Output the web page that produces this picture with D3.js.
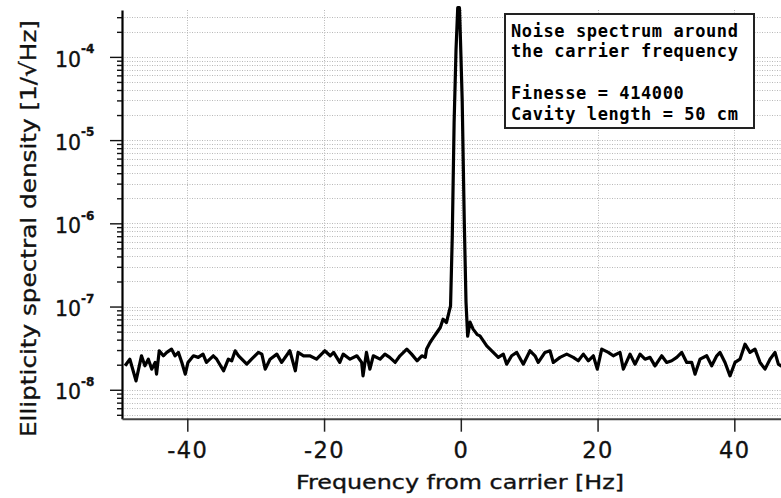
<!DOCTYPE html>
<html><head><meta charset="utf-8">
<script src="https://cdn.jsdelivr.net/npm/d3@7"></script>
<style>body{margin:0;background:#fff;} svg{display:block;}</style>
</head><body>
<svg id="chart" width="781" height="498"></svg>
<script>
// ---- data ----
const frequencies = [
 -49.1,-48.4,-47.5,-46.7,-46.2,-45.7,-45.2,-44.7,-44.5,-44.1,-43.5,-43.0,-42.3,-41.8,-41.3,-40.8,-40.3,-39.9,
 -39.1,-38.4,-37.7,-37.2,-36.2,-35.7,-34.7,-34.0,-33.5,-33.0,-32.5,-31.3,-30.6,-29.6,-29.1,-28.6,-27.9,-26.9,
 -26.2,-25.0,-24.2,-23.8,-23.0,-22.1,-21.1,-19.9,-19.1,-18.6,-17.7,-17.2,-16.2,-15.2,-14.5,-14.3,-13.8,-13.3,
 -12.8,-11.8,-11.1,-10.4,-9.6,-8.9,-7.9,-7.2,-6.4,-5.7,-5.2,-5.0,-4.5,-4.0,-3.5,-3.0,-2.6,-2.1,-1.8,-1.5,
 -1.25,-0.98,-0.70,-0.45,-0.20,-0.05,0.20,0.50,0.76,1.00,1.35,1.8,2.4,2.8,3.79,4.75,5.48,6.22,6.71,7.44,8.18,
 9.14,10.12,10.85,11.33,12.31,13.04,13.53,14.51,15.49,16.45,17.18,17.92,18.65,19.38,19.96,20.61,21.57,22.30,
 23.28,23.77,24.75,25.48,26.21,26.94,27.67,28.40,29.38,30.11,30.84,31.58,32.31,33.04,33.77,34.25,34.98,35.96,
 36.69,37.43,37.91,38.64,39.37,40.10,40.83,41.56,42.29,43.02,43.76,44.49,45.22,45.95,46.44,46.83,47.5
];
const densities = [
 1.94e-8,2.33e-8,1.28e-8,2.56e-8,1.94e-8,2.33e-8,1.77e-8,2.13e-8,1.54e-8,2.94e-8,2.56e-8,2.81e-8,3.08e-8,2.56e-8,2.81e-8,2.13e-8,1.54e-8,2.13e-8,
 2.56e-8,2.45e-8,2.68e-8,2.13e-8,2.56e-8,2.33e-8,1.69e-8,2.33e-8,2.23e-8,2.94e-8,2.56e-8,2.03e-8,2.33e-8,2.81e-8,2.68e-8,1.77e-8,2.33e-8,2.68e-8,
 2.13e-8,2.94e-8,1.69e-8,2.81e-8,2.56e-8,2.56e-8,2.33e-8,2.94e-8,2.56e-8,2.81e-8,2.13e-8,2.68e-8,2.33e-8,2.56e-8,2.13e-8,1.47e-8,2.81e-8,1.77e-8,
 2.56e-8,2.33e-8,2.68e-8,2.45e-8,2.13e-8,2.56e-8,3.08e-8,2.68e-8,2.23e-8,2.56e-8,2.45e-8,3.08e-8,3.70e-8,4.25e-8,4.88e-8,5.60e-8,7.05e-8,6.43e-8,8.09e-8,1.02e-7,
 6.97e-7,1.62e-5,1.22e-4,3.9e-4,3.9e-4,1.6e-4,3.06e-5,1.11e-6,1.13e-7,4.41e-8,6.49e-8,5.35e-8,4.6e-8,4.44e-8,3.37e-8,2.81e-8,2.45e-8,2.68e-8,2.03e-8,2.56e-8,2.81e-8,
 2.03e-8,2.94e-8,2.56e-8,2.13e-8,2.81e-8,2.94e-8,2.13e-8,2.45e-8,2.68e-8,2.45e-8,2.23e-8,2.68e-8,2.23e-8,2.56e-8,1.77e-8,3.08e-8,2.81e-8,2.56e-8,
 2.81e-8,1.77e-8,2.68e-8,2.03e-8,2.68e-8,2.33e-8,2.45e-8,1.94e-8,2.56e-8,2.13e-8,2.23e-8,2.45e-8,2.81e-8,2.13e-8,2.13e-8,1.54e-8,2.33e-8,2.56e-8,
 1.94e-8,2.56e-8,2.81e-8,2.13e-8,1.47e-8,2.13e-8,2.33e-8,3.53e-8,2.81e-8,3.08e-8,2.13e-8,1.77e-8,2.33e-8,2.81e-8,2.03e-8,1.94e-8,2.2e-8
];
const xTickValues = [-40, -20, 0, 20, 40];
const yMajorExponents = [-8, -7, -6, -5, -4];
const legendLines = ["Noise spectrum around", "the carrier frequency", "", "Finesse = 414000", "Cavity length = 50 cm"];
const xTitle = "Frequency from carrier [Hz]";
const yTitle = "Ellipticity spectral density [1/\u221AHz]";

// ---- layout ----
const W = 781, H = 498;
const plot = {left: 122, top: 10, bottom: 418.7, right: 802.7};
const svg = d3.select("#chart");
svg.append("rect").attr("width", W).attr("height", H).attr("fill", "#fff");

const x = d3.scaleLinear().domain([-49.55, 50]).range([plot.left, plot.right]);
const y = d3.scaleLog().domain([4.49e-9, 3.66e-4]).range([plot.bottom, plot.top]);

const yTicks = [];
for (let e = -9; e <= -4; e++) for (let m = 1; m <= 9; m++) {
  const v = m * Math.pow(10, e);
  if (v >= y.domain()[0] && v <= y.domain()[1]) yTicks.push(v);
}
const isMajor = v => Math.abs(Math.log10(v) - Math.round(Math.log10(v))) < 1e-9;

// gridlines
const grid = svg.append("g").attr("stroke", "#b8b8b8").attr("stroke-width", 1).attr("stroke-dasharray", "1,1.5");
grid.selectAll("line.h").data(yTicks).join("line").attr("class", "h")
  .attr("x1", plot.left).attr("x2", W).attr("y1", d => Math.round(y(d)) + 0.5).attr("y2", d => Math.round(y(d)) + 0.5);
grid.selectAll("line.v").data(xTickValues).join("line").attr("class", "v")
  .attr("y1", plot.top).attr("y2", plot.bottom).attr("x1", d => Math.round(x(d)) + 0.5).attr("x2", d => Math.round(x(d)) + 0.5);

// left axis
const gy = svg.append("g").attr("transform", `translate(${plot.left},0)`)
  .call(d3.axisLeft(y).tickValues(yTicks).tickSize(5).tickSizeOuter(0).tickFormat(""));
gy.select(".domain").attr("stroke", "#000").attr("stroke-width", 2.2);
gy.selectAll(".tick line").attr("stroke", "#111").attr("stroke-width", 1.4)
  .attr("x2", d => isMajor(d) ? -12 : -5);
const txtStyle = sel => sel.attr("fill", "#111").attr("stroke", "#111").attr("stroke-width", 0.35);
const yLab = svg.append("g").attr("font-family", "DejaVu Sans, Verdana, sans-serif").call(txtStyle);
yMajorExponents.forEach(e => {
  const ty = y(Math.pow(10, e));
  const t = yLab.append("text").attr("x", 55).attr("y", ty + 9.7).attr("font-size", 20.5).text("10");
  t.append("tspan").attr("dy", -13.5).attr("font-size", 12).attr("font-weight", "bold").text(String(e));
});

// bottom axis
const gx = svg.append("g").attr("transform", `translate(0,${plot.bottom})`)
  .call(d3.axisBottom(x).tickValues(xTickValues).tickSize(13).tickSizeOuter(0).tickFormat(d => String(d)));
gx.select(".domain").attr("stroke", "#444").attr("stroke-width", 2);
gx.selectAll(".tick line").attr("stroke", "#222").attr("stroke-width", 1.5);
gx.selectAll(".tick text").attr("y", 39.5).attr("dy", 0)
  .attr("font-family", "DejaVu Sans, Verdana, sans-serif").attr("font-size", 22.5)
  .attr("letter-spacing", "1.5px").call(txtStyle);

// data line
const pts = frequencies.map((f, i) => [f, densities[i]]);
svg.append("path").datum(pts)
  .attr("fill", "none").attr("stroke", "#000").attr("stroke-width", 3.2)
  .attr("stroke-linejoin", "round")
  .attr("d", d3.line().x(d => x(d[0])).y(d => y(d[1])));

// titles
svg.append("text").attr("x", 460).attr("y", 489).attr("text-anchor", "middle")
  .attr("font-family", "DejaVu Sans, Verdana, sans-serif").attr("font-size", 20)
  .attr("textLength", 328).attr("lengthAdjust", "spacingAndGlyphs").call(txtStyle).text(xTitle);
svg.append("text").attr("transform", "translate(36,228.5) rotate(-90)").attr("text-anchor", "middle")
  .attr("font-family", "DejaVu Sans, Verdana, sans-serif").attr("font-size", 22)
  .attr("textLength", 417).attr("lengthAdjust", "spacingAndGlyphs").call(txtStyle).text(yTitle);

// legend box
const lg = svg.append("g");
lg.append("rect").attr("x", 505).attr("y", 14).attr("width", 249).attr("height", 114)
  .attr("fill", "#fff").attr("stroke", "#222").attr("stroke-width", 2);
lg.selectAll("text").data(legendLines).join("text")
  .attr("x", 511).attr("y", (d, i) => 36.5 + i * 20.8)
  .attr("font-family", "DejaVu Sans Mono, monospace").attr("font-weight", "bold")
  .attr("font-size", 17).attr("letter-spacing", "0.6px").attr("fill", "#000").text(d => d);
</script>
</body></html>
